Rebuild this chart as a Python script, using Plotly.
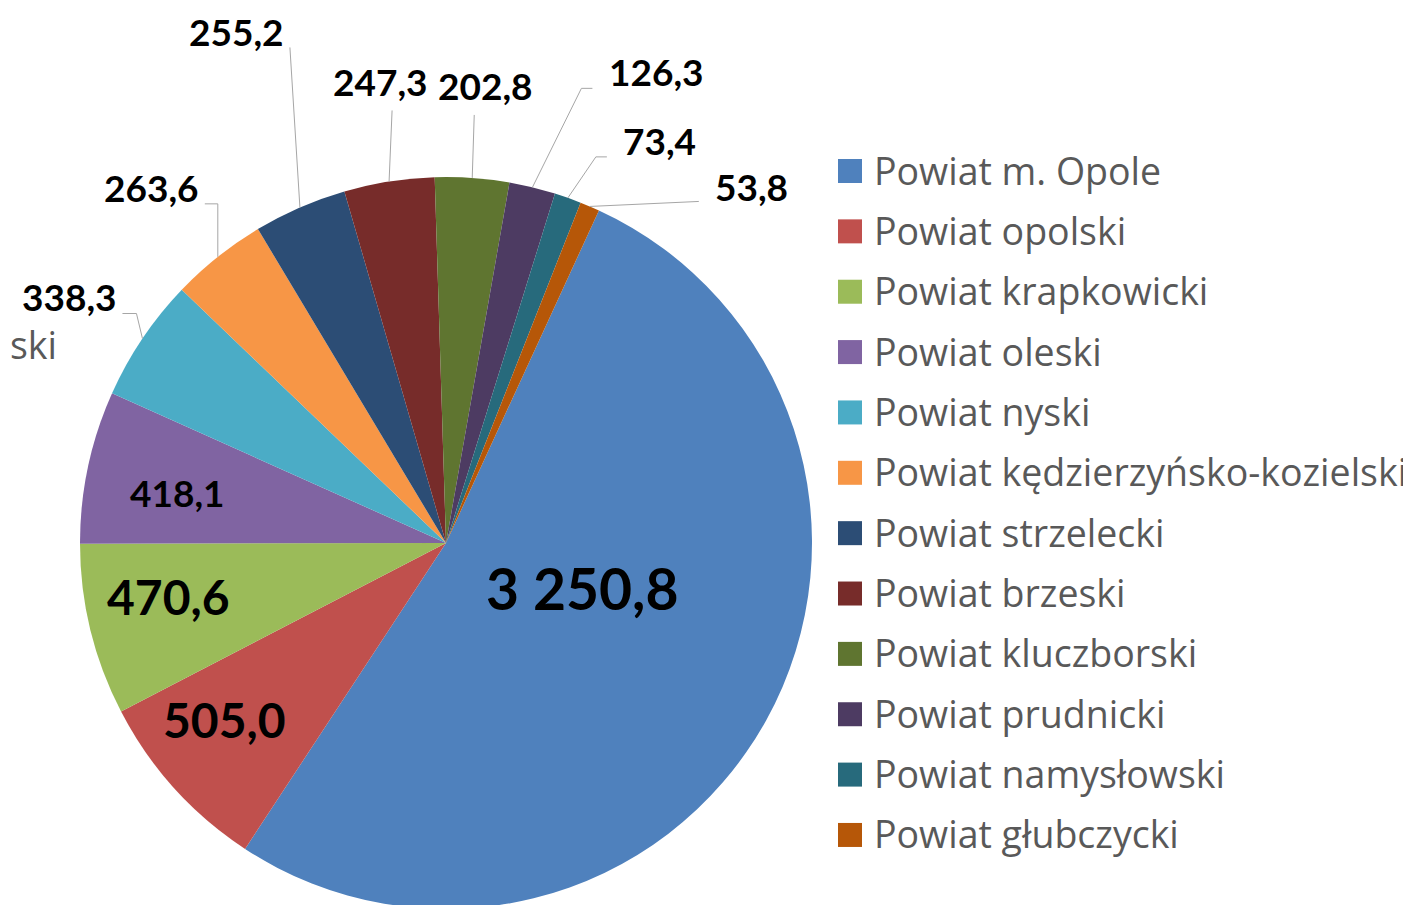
import math
import plotly.graph_objects as go

# ---------------- data ----------------
categories = [
    "Powiat m. Opole", "Powiat opolski", "Powiat krapkowicki", "Powiat oleski",
    "Powiat nyski", "Powiat kędzierzyńsko-kozielski", "Powiat strzelecki",
    "Powiat brzeski", "Powiat kluczborski", "Powiat prudnicki",
    "Powiat namysłowski", "Powiat głubczycki",
]
values = [3250.8, 505.0, 470.6, 418.1, 338.3, 263.6, 255.2, 247.3, 202.8, 126.3, 73.4, 53.8]

# ---------------- style ----------------
colors = ["#4F81BD", "#C0504D", "#9BBB59", "#8064A2", "#4BACC6", "#F79646",
          "#2C4D75", "#772C2A", "#5F7530", "#4D3B62", "#276A7C", "#B65708"]
W, H = 1411, 905
OFF = 8                      # page body margin: figure origin sits 8px right/down
CX, CY, R = 446 - OFF, 543 - OFF, 366
ROT = 24.7
NUM_FONT = "Lato"
LEG_FONT = "Open Sans"
LEG_SIZE = 37.5

# label placement style
label_mode = ["in", "in", "in", "in", "out", "out", "out", "out", "out", "out", "out", "out"]
label_size = [57, 48, 48, 37, 37, 37, 37, 37, 37, 37, 37, 37]
# inside: (radial fraction, xshift px, yshift px)
inside_style = {0: (0.39, 12, 24), 1: (0.77, -12, 12), 2: (0.77, -4, 13), 3: (0.77, 7, -8)}
# outside: label centre offset from slice edge point, and leader line points (offsets, px, y down)
outside_label = {4: (-73, -42), 5: (-66, -69), 6: (-63, -176), 7: (-9, -100),
                 8: (13, -92), 9: (124, -116), 10: (92, -57), 11: (162, -20)}
outside_leader = {4: [(-6, -25), (-20, -25)], 5: [(0, -53), (-13, -53)],
                  6: [(-10, -160)], 7: [(3, -71)], 8: [(2, -63)],
                  9: [(49, -99), (60, -99)], 10: [(28, -41), (39, -41)],
                  11: [(109, -5)]}


def fmt(v):
    return f"{v:,.1f}".replace(",", " ").replace(".", ",")


def px(x):
    return x / W


def py(y):
    return 1 - y / H


fig = go.Figure(go.Pie(
    labels=categories, values=values, sort=False, direction="clockwise",
    rotation=ROT, textinfo="none", showlegend=False,
    marker=dict(colors=colors, line=dict(width=0)),
    domain=dict(x=[px(CX - R), px(CX + R)], y=[py(CY + R), py(CY - R)]),
))

total = sum(values)
annotations = []
shapes = []
cum = 0.0
for i, v in enumerate(values):
    mid = math.radians(ROT + 360 * (cum + v / 2) / total)
    cum += v
    sx, sy = math.sin(mid), -math.cos(mid)
    text = f"<b>{fmt(v)}</b>"
    font = dict(family=NUM_FONT, size=label_size[i], color="#000000")
    if label_mode[i] == "in":
        f, xs, ys = inside_style[i]
        annotations.append(dict(
            x=px(CX + f * R * sx), y=py(CY + f * R * sy), xref="paper", yref="paper",
            text=text, showarrow=False, xshift=xs, yshift=ys,
            xanchor="center", yanchor="middle", font=font,
        ))
    else:
        ex, ey = CX + R * sx, CY + R * sy
        lx, ly = outside_label[i]
        annotations.append(dict(
            x=px(ex), y=py(ey), xref="paper", yref="paper",
            text=text, showarrow=False, xshift=lx, yshift=-ly,
            xanchor="center", yanchor="middle", font=font,
        ))
        pts = [(ex, ey)] + [(ex + dx, ey + dy) for dx, dy in outside_leader[i]]
        path = "M " + " L ".join(f"{px(a):.5f},{py(b):.5f}" for a, b in pts)
        shapes.append(dict(type="path", xref="paper", yref="paper", path=path,
                           line=dict(color="#A6A6A6", width=1)))

# manual legend
LEG_X, LEG_Y0, LEG_STEP, SQ = 838 - OFF, 171 - OFF, 60.36, 24
for i, name in enumerate(categories):
    yc = LEG_Y0 + i * LEG_STEP
    shapes.append(dict(type="rect", xref="paper", yref="paper",
                       x0=px(LEG_X), x1=px(LEG_X + SQ), y0=py(yc + SQ / 2), y1=py(yc - SQ / 2),
                       fillcolor=colors[i], line=dict(width=0)))
    annotations.append(dict(x=px(872 - OFF), y=py(yc - 1), xref="paper", yref="paper", text=name,
                            showarrow=False, xanchor="left", yanchor="middle",
                            font=dict(family=LEG_FONT, size=LEG_SIZE, color="#595959")))

# truncated category label at left edge
annotations.append(dict(x=0, y=py(344 - OFF), xref="paper", yref="paper", text="ski",
                        showarrow=False, xanchor="left", yanchor="middle",
                        font=dict(family=LEG_FONT, size=LEG_SIZE, color="#595959")))

fig.update_layout(
    width=W, height=H, autosize=False,
    margin=dict(l=0, r=0, t=0, b=0),
    paper_bgcolor="white", plot_bgcolor="white",
    annotations=annotations, shapes=shapes,
)

fig.write_html("out.html")
